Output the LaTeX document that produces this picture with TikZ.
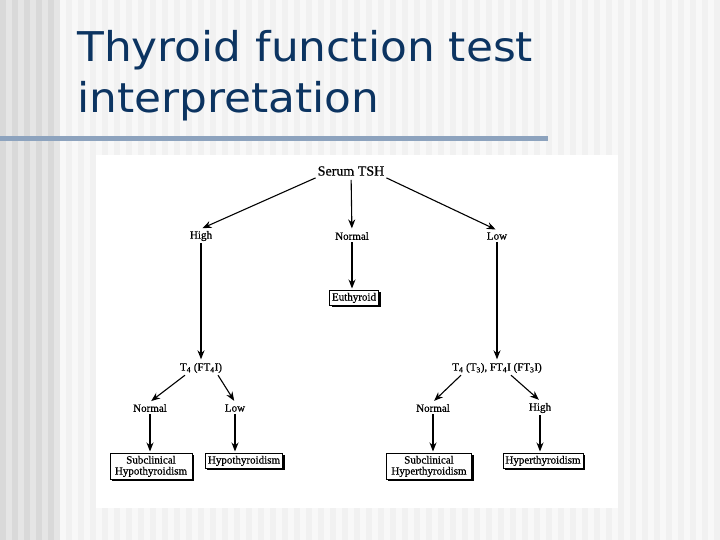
\documentclass[tikz,border=0pt]{standalone}
\usepackage{fontspec}
\setmainfont[FakeBold=0.6]{Liberation Serif}
\newfontfamily\titlefont[FakeStretch=1.07]{DejaVu Sans}
\usetikzlibrary{arrows.meta, positioning, shadows, calc}

\definecolor{titleblue}{RGB}{12,52,97}
\definecolor{rulegray}{RGB}{141,163,190}
\definecolor{stripelight}{RGB}{241,241,241}
\definecolor{stripepale}{RGB}{248,248,248}
\definecolor{stripedark}{RGB}{217,217,217}
\definecolor{stripemid}{RGB}{229,229,229}

\begin{document}
\begin{tikzpicture}[
    x=1pt, y=-1pt,
    heading/.style={anchor=base west, text=titleblue,
                    font=\titlefont\fontsize{41}{50}\selectfont, inner sep=0pt},
    lbl/.style={font=\fontsize{11}{12}\selectfont, inner sep=2pt},
    result/.style={rectangle, draw, fill=white, line width=0.8pt,
                   align=center, anchor=north, inner sep=2.5pt,
                   font=\fontsize{11}{11}\selectfont,
                   drop shadow={shadow xshift=2pt, shadow yshift=-2pt,
                                fill=black, opacity=1}},
    arrow/.style={-{Stealth[length=9pt, width=7pt]}, line width=1.1pt,
                  shorten >=1.5pt},
]
\useasboundingbox (0,0) rectangle (720,540);

% -- slide background --
\fill[stripelight] (0,0) rectangle (720,540);
\foreach \x in {0,12,...,708}
  \fill[stripepale] (\x,0) rectangle ++(6,540);
\foreach \x in {0,12,...,48} {
  \fill[stripedark] (\x,0) rectangle ++(6,540);
  \fill[stripemid] (\x+6,0) rectangle ++(6,540);
}
\fill[rulegray] (0,136) rectangle (548,141);
\fill[white] (96,155) rectangle (618,508);

% -- title --
\node[heading] (title1) at (77,62) {Thyroid function test};
\node[heading] (title2) at (77,113) {interpretation};

% -- first level --
\node[lbl, font=\fontsize{14}{15}\selectfont] (tsh) at (351,171) {Serum TSH};
\node[lbl] (high) at (201,236) {High};
\node[lbl] (normal) at (352,236) {Normal};
\node[lbl] (low) at (497,236) {Low};
\node[result] (euth) at (354,290) {Euthyroid};

% -- second level --
\node[lbl] (tfour) at (201,368) {T\textsubscript{4} (FT\textsubscript{4}I)};
\node[lbl] (tthree) at (497,368)
  {T\textsubscript{4} (T\textsubscript{3}), FT\textsubscript{4}I (FT\textsubscript{3}I)};
\node[lbl] (lnorm) at (150,408) {Normal};
\node[lbl] (llow) at (235,408) {Low};
\node[lbl] (rnorm) at (433,408) {Normal};
\node[lbl] (rhigh) at (540,408) {High};

% -- results --
\node[result, inner xsep=5pt] (subhypo) at (151,453) {Subclinical\\Hypothyroidism};
\node[result] (hypo) at (244,453) {Hypothyroidism};
\node[result, inner xsep=5pt] (subhyper) at (429,453) {Subclinical\\Hyperthyroidism};
\node[result] (hyper) at (543,453) {Hyperthyroidism};

% -- arrows --
\draw[arrow] (tsh.south west) -- (high.north);
\draw[arrow, shorten <=2pt] (tsh) -- (normal);
\draw[arrow] (tsh.south east) -- (low.north);
\draw[arrow] (high) -- (tfour);
\draw[arrow] (normal) -- (euth.north -| normal);
\draw[arrow] (low) -- (tthree);
\draw[arrow] ($(tfour.south)+(-16,0)$) -- (lnorm.north);
\draw[arrow] ($(tfour.south)+(17,0)$) -- (llow.north);
\draw[arrow] ($(tthree.south)+(-36,0)$) -- (rnorm.north);
\draw[arrow] ($(tthree.south)+(14,0)$) -- (rhigh.north);
\draw[arrow] (lnorm) -- (lnorm |- subhypo.north);
\draw[arrow] (llow) -- (llow |- hypo.north);
\draw[arrow] (rnorm) -- (rnorm |- subhyper.north);
\draw[arrow] (rhigh) -- (rhigh |- hyper.north);

\end{tikzpicture}
\end{document}
